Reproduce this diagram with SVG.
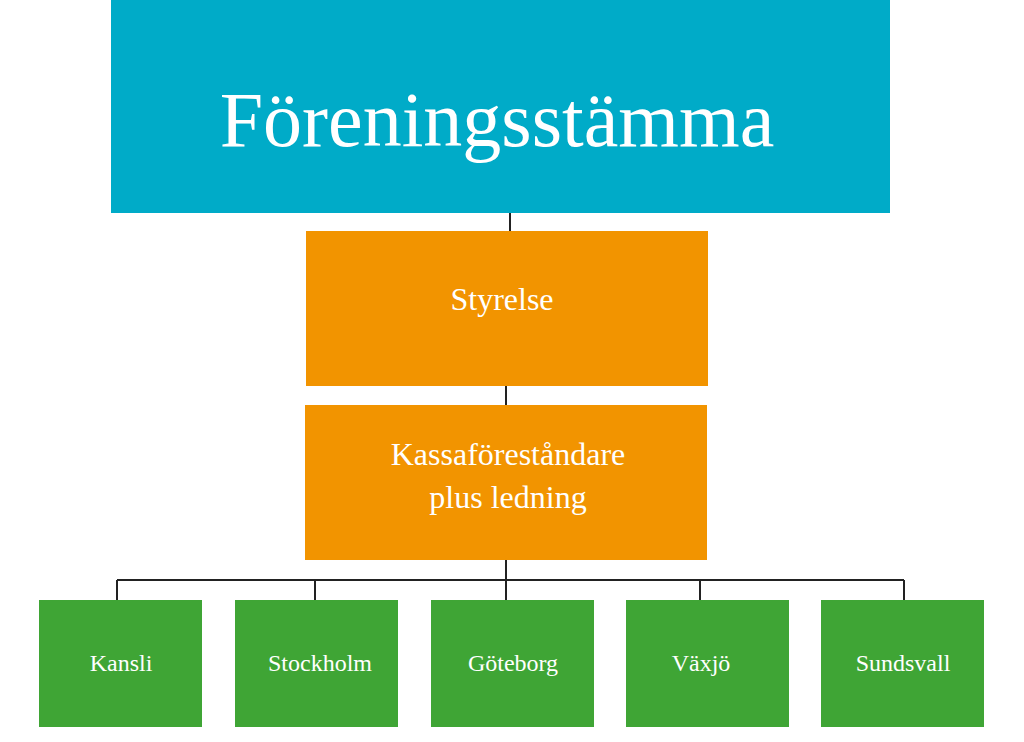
<svg xmlns="http://www.w3.org/2000/svg" width="1024" height="742" viewBox="0 0 1024 742">
<style>
text{font-family:"Liberation Serif","DejaVu Serif",serif;fill:#fff;text-anchor:middle}
.o{fill:#F29400}.g{fill:#3FA535}
.c{stroke:#222;stroke-width:2;fill:none}
</style>
<rect width="1024" height="742" fill="#fff"/>
<g id="connectors">
<path class="c" d="M510 213V231M506 386V405M506 560V580M117 580H904M117 580V600M315 580V600M506 580V600M700 580V600M904 580V600"/>
</g>
<g id="top"><rect x="111" y="0" width="779" height="213" fill="#00ABC8"/><text x="497" y="146" font-size="78">Föreningsstämma</text></g>
<g id="styrelse"><rect class="o" x="306" y="231" width="402" height="155"/><text x="502" y="310" font-size="32">Styrelse</text></g>
<g id="kassa"><rect class="o" x="305" y="405" width="402" height="155"/><text x="508" y="465" font-size="32">Kassaföreståndare</text><text x="508" y="508" font-size="32">plus ledning</text></g>
<g id="kansli"><rect class="g" x="39" y="600" width="163" height="127"/><text x="121" y="671" font-size="24">Kansli</text></g>
<g id="stockholm"><rect class="g" x="235" y="600" width="163" height="127"/><text x="320" y="671" font-size="24">Stockholm</text></g>
<g id="goteborg"><rect class="g" x="431" y="600" width="163" height="127"/><text x="513" y="671" font-size="24">Göteborg</text></g>
<g id="vaxjo"><rect class="g" x="626" y="600" width="163" height="127"/><text x="701" y="671" font-size="24">Växjö</text></g>
<g id="sundsvall"><rect class="g" x="821" y="600" width="163" height="127"/><text x="903" y="671" font-size="24">Sundsvall</text></g>
</svg>
